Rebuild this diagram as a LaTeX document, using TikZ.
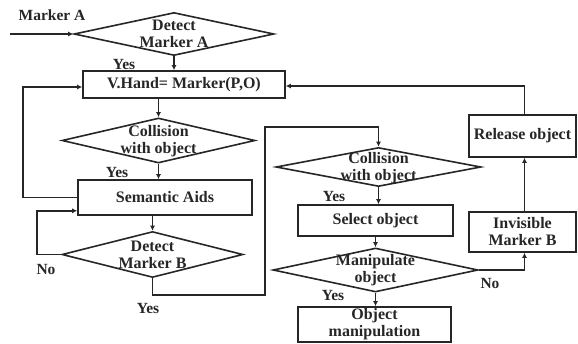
\documentclass[tikz,border=0pt]{standalone}
\usepackage{fontspec}
\setmainfont{Liberation Serif}
\usetikzlibrary{shapes.geometric,arrows.meta,calc}
\definecolor{ink}{HTML}{262626}
\tikzset{
  base/.style={draw=ink, line width=1.6pt},
  boxnode/.style={base, rectangle, inner sep=0pt, align=center,
    font=\bfseries\fontsize{16}{17}\selectfont, text=ink},
  dianode/.style={base, diamond, inner sep=0pt, aspect=1},
  txt/.style={inner sep=0pt, align=center, font=\bfseries\fontsize{16}{17}\selectfont, text=ink},
  lbl/.style={inner sep=0pt, font=\bfseries\fontsize{15.5}{16}\selectfont, text=ink},
  conn/.style={draw=ink, line width=1.6pt, -{Latex[length=5pt,width=5pt]}},
}
\begin{document}
\begin{tikzpicture}[x=1pt,y=-1pt]
\useasboundingbox (0,0) rectangle (578,343);
% decisions
\node[dianode, minimum width=200, minimum height=43] (d1) at (174,34) {};
\node[txt] (d1t) at (174,34) {Detect\\Marker A};
\node[dianode, minimum width=193, minimum height=45] (d2) at (158.5,140.5) {};
\node[txt] (d2t) at (158.5,141) {Collision\\with object};
\node[dianode, minimum width=181, minimum height=46] (d3) at (152.5,254.5) {};
\node[txt] (d3t) at (152.5,255) {Detect\\Marker B};
\node[dianode, minimum width=205, minimum height=39] (d4) at (378.5,167) {};
\node[txt] (d4t) at (378.5,168) {Collision\\with object};
\node[dianode, minimum width=205, minimum height=44] (d5) at (375.5,270) {};
\node[txt] (d5t) at (375.5,270) {Manipulate\\object};
% boxes
\node[boxnode, minimum width=202, minimum height=27] (vh) at (184,84.5) {V.Hand= Marker(P,O)};
\node[boxnode, minimum width=174, minimum height=35] (sa) at (165,197.5) {Semantic Aids};
\node[boxnode, minimum width=155, minimum height=31] (so) at (375.5,220.5) {Select object};
\node[boxnode, minimum width=153, minimum height=35] (om) at (374.5,324.5) {Object\\manipulation};
\node[boxnode, minimum width=107, minimum height=42] (ro) at (522.5,136) {Release object};
\node[boxnode, minimum width=107, minimum height=40] (imb) at (522.5,232) {Invisible\\Marker B};
% labels
\node[lbl] (ma) at (52,15) {Marker A};
\node[lbl] (y1) at (124,64) {Yes};
\node[lbl] (y2) at (117,172) {Yes};
\node[lbl] (n3) at (46,269) {No};
\node[lbl] (y3) at (148,308) {Yes};
\node[lbl] (y4) at (334,196) {Yes};
\node[lbl] (y5) at (333,295) {Yes};
\node[lbl] (n5) at (490,283) {No};
% coordinates
\coordinate (start) at (10,34);
\coordinate (lA) at (23,197.5);
\coordinate (lB) at (37,254.5);
\coordinate (tA) at (265,295);
\coordinate (tB) at (265,127);
% connectors
\draw[conn] (start) -- (d1.west);
\draw[conn] (d1.south) -- (d1.south |- vh.north);
\draw[conn] (d2.north |- vh.south) -- (d2.north);
\draw[conn] (d2.south) -- (d2.south |- sa.north);
\draw[conn] (d3.north |- sa.south) -- (d3.north);
\draw[conn] (sa.west) -- (lA) |- ($(vh.west)+(0,2.5)$);
\draw[conn] (d3.west) -- (lB) |- ($(sa.south west)+(0,-5)$);
\draw[conn] (d3.south) |- (tA) -- (tB) -| (d4.north);
\draw[conn] (d4.south) -- (d4.south |- so.north);
\draw[conn] (d5.north |- so.south) -- (d5.north);
\draw[conn] (d5.south) -- (d5.south |- om.north);
\draw[conn] (d5.east) -| ($(imb.south)+(2,0)$);
\draw[conn] ($(imb.north)+(2,0)$) -- ($(ro.south)+(2,0)$);
\draw[conn] ($(ro.north)+(2,0)$) |- ($(vh.east)+(0,1.5)$);
\end{tikzpicture}
\end{document}
